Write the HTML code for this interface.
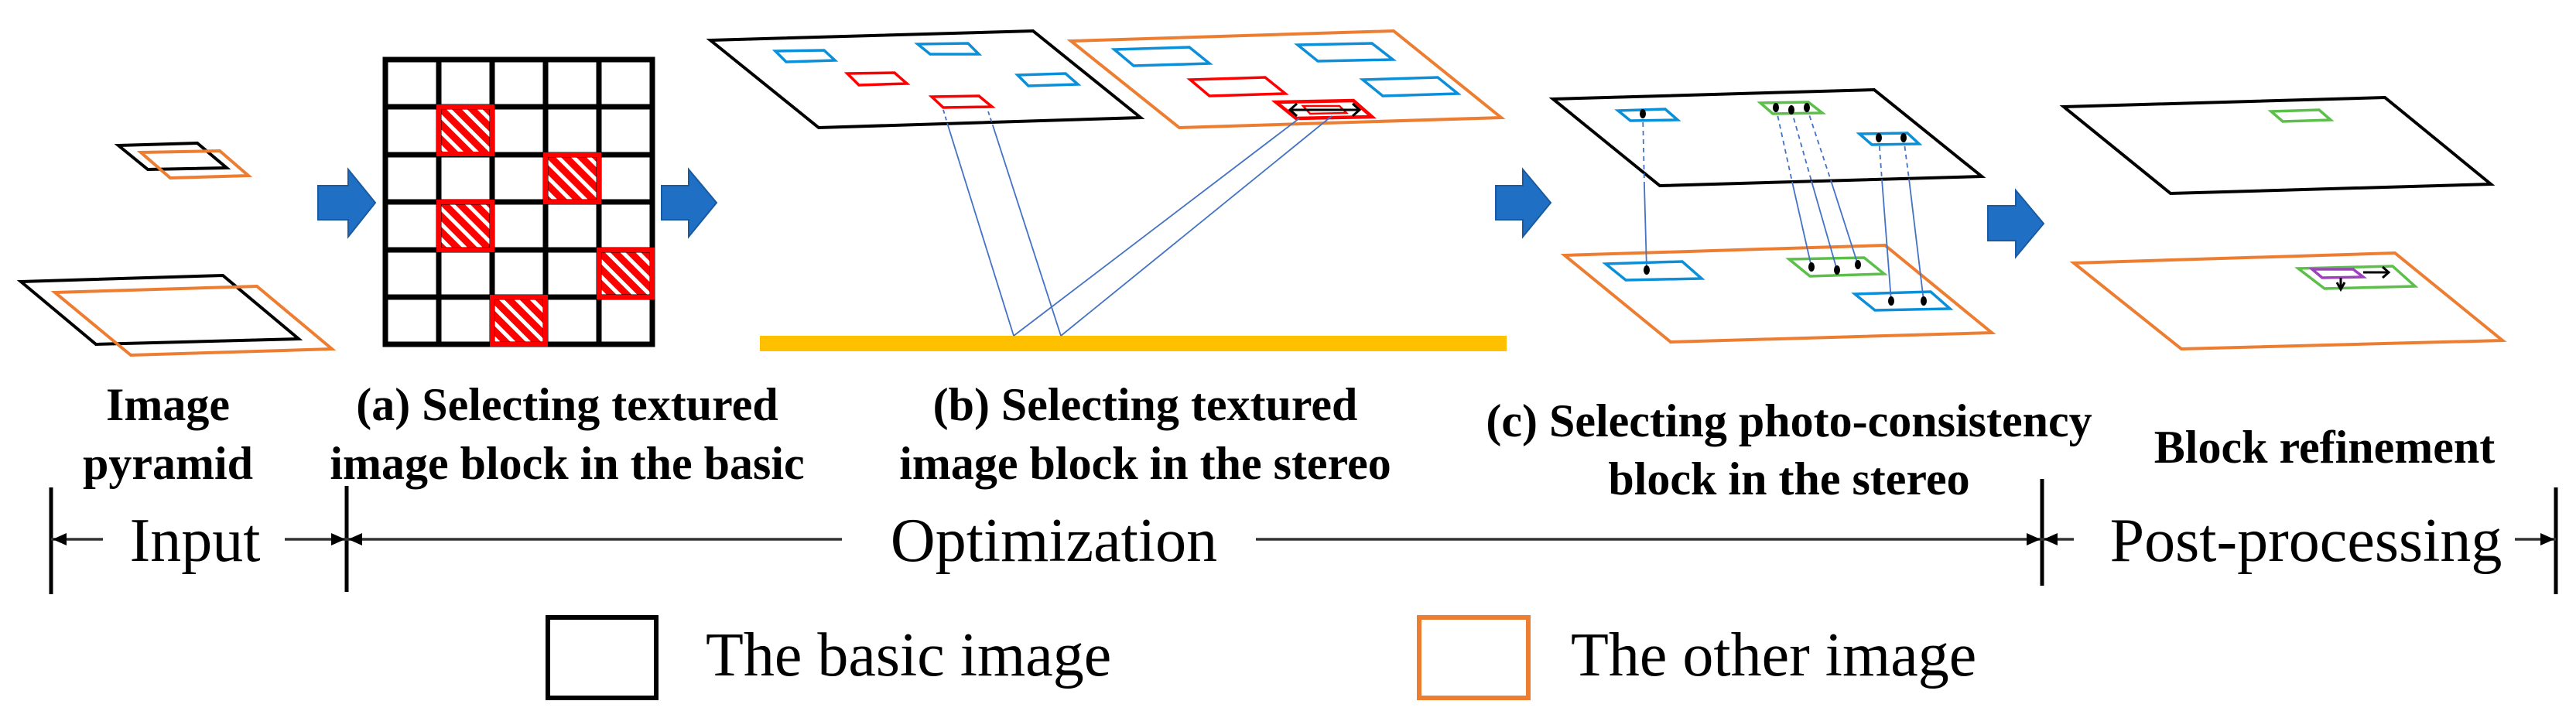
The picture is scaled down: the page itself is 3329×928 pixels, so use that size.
<!DOCTYPE html>
<html><head><meta charset="utf-8"><style>
html,body{margin:0;padding:0;background:#fff;}
svg{display:block;}
.b{font-family:"Liberation Serif",serif;font-weight:bold;font-size:60px;fill:#000;}
.r{font-family:"Liberation Serif",serif;font-size:80px;fill:#000;}
</style></head><body>
<svg width="3329" height="928" viewBox="0 0 3329 928" xmlns="http://www.w3.org/2000/svg">
<defs>
<pattern id="hat" patternUnits="userSpaceOnUse" width="14" height="14" patternTransform="rotate(-45)">
<rect width="14" height="14" fill="#ff0000"/><rect x="0" y="0" width="5" height="14" fill="#fff"/>
</pattern>
</defs>
<!-- pyramid -->
<g fill="none" stroke-width="4">
<polygon points="153,188 255,185 293,217 191,219" stroke="#000"/>
<polygon points="182,197 284,195 321,227 220,230" stroke="#ED7D31"/>
<polygon points="27,364 288,356 386,438 124,445" stroke="#000"/>
<polygon points="71,378 332,370 429,451 169,459" stroke="#ED7D31"/>
</g>
<!-- blue arrows -->
<g fill="#1F6FC5" stroke="#1a5aa0" stroke-width="2">
<polygon points="411,240 450,240 450,219 485,262 450,306 450,284 411,284"/>
<polygon points="855,240 890,240 890,219 926,262 890,306 890,284 855,284"/>
<polygon points="1933,240 1968,240 1968,219 2004,262 1968,306 1968,284 1933,284"/>
<polygon points="2569,266 2605,266 2605,246 2641,289 2605,332 2605,311 2569,311"/>
</g>
<!-- grid -->
<g>
<rect x="567" y="138" width="69" height="61" fill="url(#hat)"/>
<rect x="705" y="200" width="69" height="61" fill="url(#hat)"/>
<rect x="567" y="261" width="69" height="62" fill="url(#hat)"/>
<rect x="774" y="323" width="69" height="61" fill="url(#hat)"/>
<rect x="636" y="384" width="69" height="61" fill="url(#hat)"/>
</g>
<g stroke="#000" stroke-width="7" fill="none">
<rect x="498" y="77" width="345" height="368"/>
<line x1="567" y1="77" x2="567" y2="445"/><line x1="636" y1="77" x2="636" y2="445"/>
<line x1="705" y1="77" x2="705" y2="445"/><line x1="774" y1="77" x2="774" y2="445"/>
<line x1="498" y1="138" x2="843" y2="138"/><line x1="498" y1="200" x2="843" y2="200"/>
<line x1="498" y1="261" x2="843" y2="261"/><line x1="498" y1="323" x2="843" y2="323"/>
<line x1="498" y1="384" x2="843" y2="384"/>
</g>
<g stroke="#ff0000" stroke-width="6" fill="none">
<rect x="567" y="138" width="69" height="61"/><rect x="705" y="200" width="69" height="61"/>
<rect x="567" y="261" width="69" height="62"/><rect x="774" y="323" width="69" height="61"/>
<rect x="636" y="384" width="69" height="61"/>
</g>
<!-- panel b -->
<rect x="982" y="434" width="965" height="20" fill="#FFC000"/>
<g fill="none" stroke-width="4">
<polygon points="918,52 1335,40 1474,152 1058,165" stroke="#000"/>
<polygon points="1384,53 1801,40 1940,152 1524,165" stroke="#ED7D31"/>
</g>
<g fill="none" stroke-width="3.5">
<polygon points="1002,66 1065,65 1079,78 1016,80" stroke="#0A8FD8"/>
<polygon points="1186,57 1251,56 1265,70 1202,70" stroke="#0A8FD8"/>
<polygon points="1095,95 1156,94 1172,108 1110,110" stroke="#ff0000"/>
<polygon points="1315,97 1377,95 1393,109 1329,111" stroke="#0A8FD8"/>
<polygon points="1204,125 1265,124 1282,138 1219,139" stroke="#ff0000"/>
<polygon points="1440,64 1537,61 1563,82 1465,85" stroke="#0A8FD8"/>
<polygon points="1677,58 1773,56 1800,77 1703,79" stroke="#0A8FD8"/>
<polygon points="1538,103 1635,100 1661,121 1563,124" stroke="#ff0000"/>
<polygon points="1761,103 1858,100 1884,121 1787,124" stroke="#0A8FD8"/>
<polygon points="1649,132 1749,130 1773,151 1675,153" stroke="#ff0000" stroke-width="4.5"/>
<polygon points="1684,137 1731,137 1740,146 1693,147" stroke="#ff0000" stroke-width="2.5"/>
</g>
<g stroke="#000" stroke-width="3" fill="none">
<line x1="1667" y1="142" x2="1757" y2="142"/>
<polyline points="1676,134 1667,142 1676,150"/><polyline points="1748,134 1757,142 1748,150"/>
</g>
<g stroke="#4472C4" stroke-width="1.8" fill="none">
<line x1="1219" y1="142" x2="1225" y2="162" stroke-dasharray="5,4"/>
<line x1="1225" y1="162" x2="1310" y2="434"/>
<line x1="1277" y1="144" x2="1283" y2="162" stroke-dasharray="5,4"/>
<line x1="1283" y1="162" x2="1371" y2="434"/>
<line x1="1679" y1="153" x2="1310" y2="434"/>
<line x1="1721" y1="150" x2="1371" y2="434"/>
</g>
<!-- panel c -->
<g fill="none" stroke-width="4">
<polygon points="2007,128 2422,116 2561,228 2145,240" stroke="#000"/>
<polygon points="2022,330 2436,317 2574,430 2159,442" stroke="#ED7D31"/>
</g>
<g fill="none" stroke-width="3.5">
<polygon points="2091,143 2152,141 2168,155 2107,156" stroke="#0A8FD8"/>
<polygon points="2275,133 2337,132 2355,146 2291,147" stroke="#5CBF4A"/>
<polygon points="2403,173 2465,172 2480,186 2419,187" stroke="#0A8FD8"/>
<polygon points="2075,341 2174,338 2199,360 2101,362" stroke="#0A8FD8"/>
<polygon points="2312,335 2409,333 2435,354 2339,357" stroke="#5CBF4A"/>
<polygon points="2397,380 2495,377 2520,399 2423,401" stroke="#0A8FD8"/>
</g>
<g stroke="#4472C4" stroke-width="1.8" fill="none">
<g stroke-dasharray="6,5">
<line x1="2123" y1="147" x2="2125" y2="240"/>
<line x1="2295" y1="139" x2="2316" y2="235"/>
<line x1="2315" y1="142" x2="2341" y2="234"/>
<line x1="2335" y1="139" x2="2366" y2="233"/>
<line x1="2428" y1="178" x2="2432" y2="232"/>
<line x1="2460" y1="178" x2="2467" y2="231"/>
</g>
<line x1="2125" y1="240" x2="2128" y2="349"/>
<line x1="2316" y1="235" x2="2341" y2="345"/>
<line x1="2341" y1="234" x2="2374" y2="349"/>
<line x1="2366" y1="233" x2="2401" y2="342"/>
<line x1="2432" y1="232" x2="2444" y2="389"/>
<line x1="2467" y1="231" x2="2486" y2="389"/>
</g>
<g fill="#000">
<ellipse cx="2123" cy="147" rx="4" ry="6"/>
<ellipse cx="2295" cy="139" rx="4" ry="6"/><ellipse cx="2315" cy="142" rx="4" ry="6"/><ellipse cx="2335" cy="139" rx="4" ry="6"/>
<ellipse cx="2428" cy="178" rx="4" ry="6"/><ellipse cx="2460" cy="178" rx="4" ry="6"/>
<ellipse cx="2128" cy="349" rx="4" ry="6"/>
<ellipse cx="2341" cy="345" rx="4" ry="6"/><ellipse cx="2374" cy="349" rx="4" ry="6"/><ellipse cx="2401" cy="342" rx="4" ry="6"/>
<ellipse cx="2444" cy="389" rx="4" ry="6"/><ellipse cx="2486" cy="389" rx="4" ry="6"/>
</g>
<!-- refinement -->
<g fill="none" stroke-width="4">
<polygon points="2667,138 3082,126 3219,238 2805,250" stroke="#000"/>
<polygon points="2680,340 3095,327 3234,440 2819,451" stroke="#ED7D31"/>
</g>
<g fill="none" stroke-width="3.5">
<polygon points="2935,144 2997,142 3012,155 2950,157" stroke="#5CBF4A"/>
<polygon points="2970,347 3092,344 3121,370 3004,373" stroke="#5CBF4A"/>
<polygon points="2988,348 3041,348 3054,358 3001,359" stroke="#A040C0"/>
</g>
<g stroke="#000" stroke-width="3" fill="none">
<line x1="3054" y1="352" x2="3087" y2="352"/><polyline points="3079,345 3087,352 3079,359"/>
<line x1="3025" y1="359" x2="3025" y2="374"/><polyline points="3020,365 3025,374 3030,365"/>
</g>
<!-- labels -->
<text class="b" x="217" y="543" text-anchor="middle">Image</text>
<text class="b" x="217" y="619" text-anchor="middle">pyramid</text>
<text class="b" x="733" y="543" text-anchor="middle">(a) Selecting textured</text>
<text class="b" x="733" y="619" text-anchor="middle">image block in the basic</text>
<text class="b" x="1480" y="543" text-anchor="middle">(b) Selecting textured</text>
<text class="b" x="1480" y="619" text-anchor="middle">image block in the stereo</text>
<text class="b" x="2312" y="564" text-anchor="middle">(c) Selecting photo-consistency</text>
<text class="b" x="2312" y="639" text-anchor="middle">block in the stereo</text>
<text class="b" x="3004" y="598" text-anchor="middle">Block refinement</text>
<!-- timeline -->
<g stroke="#000" stroke-width="5">
<line x1="66" y1="630" x2="66" y2="768"/>
<line x1="448" y1="628" x2="448" y2="765"/>
<line x1="2639" y1="619" x2="2639" y2="757"/>
<line x1="3303" y1="630" x2="3303" y2="768"/>
</g>
<g stroke="#333" stroke-width="3.5">
<line x1="66" y1="697" x2="133" y2="697"/>
<line x1="368" y1="697" x2="448" y2="697"/>
<line x1="448" y1="697" x2="1088" y2="697"/>
<line x1="1623" y1="697" x2="2639" y2="697"/>
<line x1="2639" y1="697" x2="2680" y2="697"/>
<line x1="3250" y1="697" x2="3303" y2="697"/>
</g>
<g fill="#000">
<polygon points="68,697 86,689 86,705"/>
<polygon points="446,697 428,689 428,705"/>
<polygon points="450,697 468,689 468,705"/>
<polygon points="2637,697 2619,689 2619,705"/>
<polygon points="2641,697 2659,689 2659,705"/>
<polygon points="3301,697 3283,689 3283,705"/>
</g>
<text class="r" x="252" y="725" text-anchor="middle">Input</text>
<text class="r" x="1362" y="725" text-anchor="middle">Optimization</text>
<text class="r" x="2980" y="725" text-anchor="middle">Post-processing</text>
<!-- legend -->
<rect x="708" y="798" width="140" height="104" fill="none" stroke="#000" stroke-width="6"/>
<text class="r" x="912" y="873">The basic image</text>
<rect x="1834" y="798" width="141" height="104" fill="none" stroke="#ED7D31" stroke-width="6"/>
<text class="r" x="2030" y="873">The other image</text>
</svg>
</body></html>
